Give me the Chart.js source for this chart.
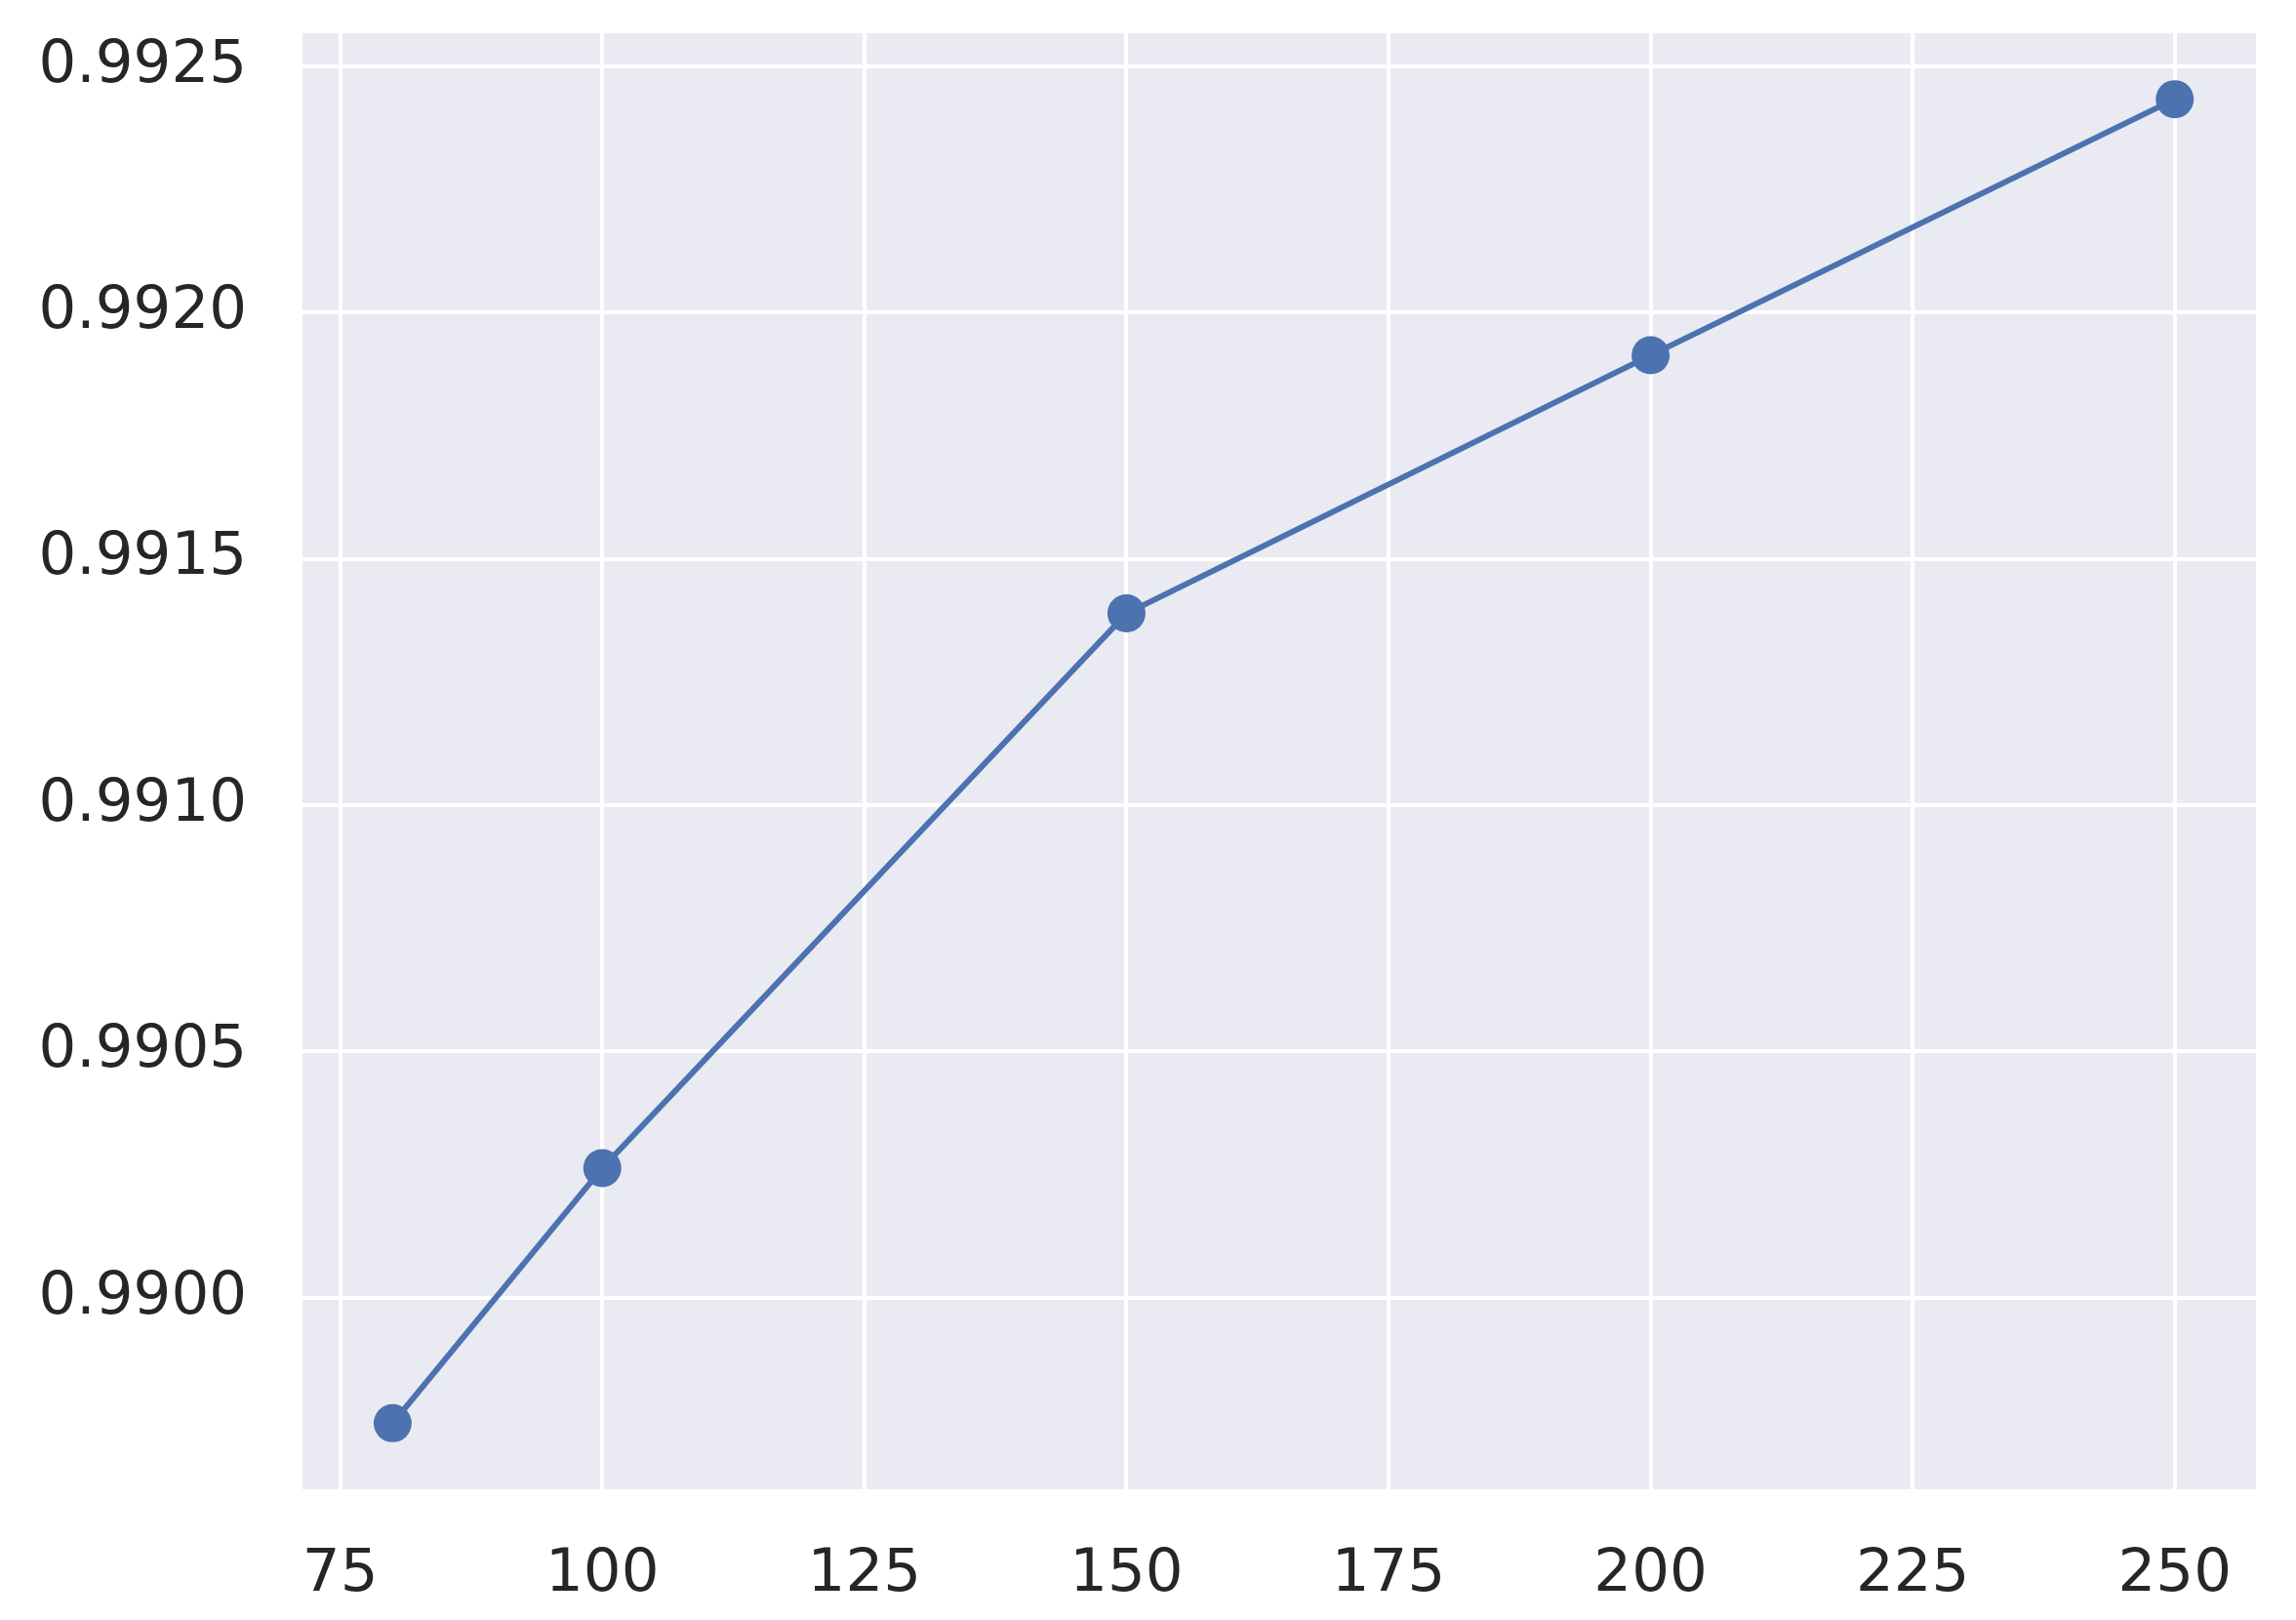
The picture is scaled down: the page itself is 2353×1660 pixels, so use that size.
<!DOCTYPE html>
<html>
<head>
<meta charset="utf-8">
<script src="https://cdn.jsdelivr.net/npm/chart.js@4"></script>
<style>
  html, body { margin: 0; padding: 0; background: #ffffff; }
  #wrap { width: 2353px; height: 1660px; }
</style>
</head>
<body>
<div id="wrap"><canvas id="c" width="2353" height="1660"></canvas></div>
<script>
const xValues = [80, 100, 150, 200, 250];
const yValues = [0.989745, 0.990263, 0.991389, 0.991913, 0.992433];
const xTicks = [75, 100, 125, 150, 175, 200, 225, 250];
const yTicks = [0.9900, 0.9905, 0.9910, 0.9915, 0.9920, 0.9925];

const bgPlugin = {
  id: 'bg',
  beforeDraw(chart) {
    const a = chart.chartArea, ctx = chart.ctx;
    ctx.save();
    ctx.fillStyle = '#EAEAF2';
    ctx.fillRect(a.left, a.top, a.right - a.left, a.bottom - a.top);
    ctx.restore();
  }
};

const tickFont = { family: 'DejaVu Sans', size: 61 };

new Chart(document.getElementById('c'), {
  type: 'line',
  data: {
    datasets: [{
      data: xValues.map((x, i) => ({ x: x, y: yValues[i] })),
      borderColor: '#4C72B0',
      backgroundColor: '#4C72B0',
      borderWidth: 6,
      pointRadius: 19.5,
      pointHoverRadius: 19.5,
      pointBorderWidth: 0,
      tension: 0
    }]
  },
  options: {
    responsive: false,
    animation: false,
    devicePixelRatio: 1,
    layout: { padding: { top: 34, right: 41, left: 0, bottom: 0 } },
    plugins: { legend: { display: false }, tooltip: { enabled: false } },
    scales: {
      x: {
        type: 'linear',
        min: 71.4,
        max: 257.75,
        afterBuildTicks: s => { s.ticks = xTicks.map(v => ({ value: v })); },
        afterFit: s => { s.height = 134; s.paddingLeft = 0; s.paddingRight = 0; },
        grid: { color: '#ffffff', lineWidth: 4, drawTicks: false },
        border: { display: false },
        ticks: { font: tickFont, color: '#262626', padding: 52, maxRotation: 0, autoSkip: false,
                 callback: v => String(v) }
      },
      y: {
        type: 'linear',
        min: 0.989611,
        max: 0.992567,
        afterBuildTicks: s => { s.ticks = yTicks.map(v => ({ value: v })); },
        afterFit: s => { s.width = 310; s.paddingTop = 0; s.paddingBottom = 0; },
        grid: { color: '#ffffff', lineWidth: 4, drawTicks: false },
        border: { display: false },
        ticks: { font: tickFont, color: '#262626', padding: 57, autoSkip: false,
                 callback: v => Number(v).toFixed(4) }
      }
    }
  },
  plugins: [bgPlugin]
});
</script>
</body>
</html>
